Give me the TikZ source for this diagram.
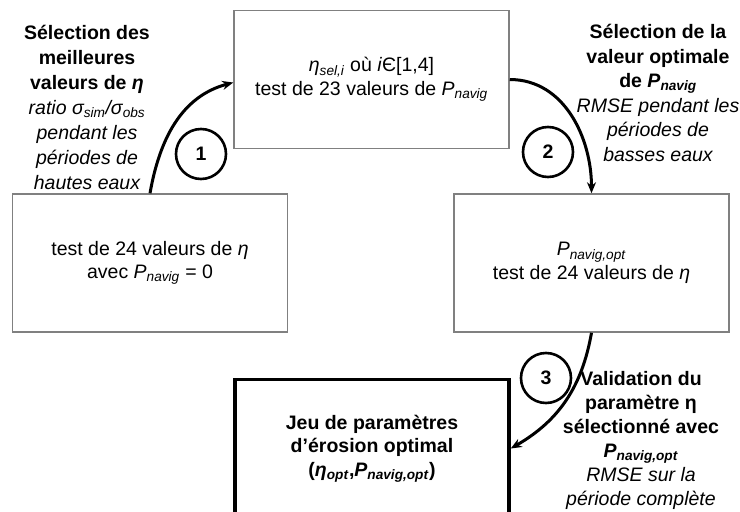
\documentclass[tikz,border=0pt]{standalone}
\usepackage{fontspec}
\setmainfont{Liberation Sans}
\usetikzlibrary{arrows.meta, positioning}
\newcommand{\Pnav}[1]{\textit{P}\textsubscript{\textit{#1}}}
\newcommand{\etasub}[1]{\textit{η}\textsubscript{\textit{#1}}}
\newcommand{\boxfont}{\fontsize{19.5}{23.5}\selectfont}
\tikzstyle{block} = [rectangle, draw=gray, line width=1.5pt, align=center, minimum width=275pt, minimum height=138pt, font=\boxfont]
\tikzstyle{final} = [block, draw=black, line width=3.5pt, font=\boxfont\bfseries, minimum width=274pt]
\tikzstyle{flow} = [line width=3pt, -{Stealth[length=11pt,width=9pt]}, black]
\tikzstyle{stepnum} = [circle, draw, line width=2.6pt, minimum size=50pt, inner sep=0pt, font=\boxfont\bfseries]
\tikzstyle{note} = [align=center, inner sep=0pt]

\begin{document}
\begin{tikzpicture}

	\path[use as bounding box] (0,0) rectangle (740pt,-512pt);

	% Boxes
	\node (eta0) [block] at (150pt,-263pt) {test de 24 valeurs de \textit{η}\\avec \Pnav{navig} = 0};
	\node (pnav) [block, above right=44pt and -55pt of eta0] {\etasub{sel,i} où \textit{i}Є[1,4]\\test de 23 valeurs de \Pnav{navig}};
	\node (etaopt) [block, right=165pt of eta0] {\Pnav{navig,opt}\\test de 24 valeurs de \textit{η}};
	\node (result) [final, below right=45pt and -55pt of eta0] {\bfseries Jeu de paramètres\\\bfseries d’érosion optimal\\\bfseries (\etasub{opt},\Pnav{navig,opt})};

	% Step numbers
	\node (n1) [stepnum] at (201pt,-154pt) {1};
	\node (n2) [stepnum] at (548pt,-152pt) {2};
	\node (n3) [stepnum] at (546pt,-378pt) {3};

	% Labels
	\node (selEta) [note, font=\fontsize{19.5}{25}\selectfont] at (87pt,-107pt) {\bfseries Sélection des\\\bfseries meilleures\\\bfseries valeurs de \textit{η}\\\itshape ratio σ\textsubscript{sim}/σ\textsubscript{obs}\\\itshape pendant les\\\itshape périodes de\\\itshape hautes eaux};
	\node (selP) [note, font=\fontsize{19.5}{24.5}\selectfont] at (658pt,-93pt) {\bfseries Sélection de la\\\bfseries valeur optimale\\\bfseries de \Pnav{navig}\\\itshape RMSE pendant les\\\itshape périodes de\\\itshape basses eaux};
	\node (valid) [note, font=\fontsize{19.5}{24}\selectfont] at (641pt,-440pt) {\bfseries Validation du\\\bfseries paramètre η\\\bfseries sélectionné avec\\\bfseries \Pnav{navig,opt}\\\itshape RMSE sur la\\\itshape période complète};

	% Arrows
	\draw[flow] (eta0.north) to[out=80,in=195] ([yshift=-3pt]pnav.west);
	\draw[flow] (pnav.east) to[out=0,in=90] (etaopt.north);
	\draw[flow] (etaopt.south) to[out=-100,in=30] (result.east);

\end{tikzpicture}
\end{document}
